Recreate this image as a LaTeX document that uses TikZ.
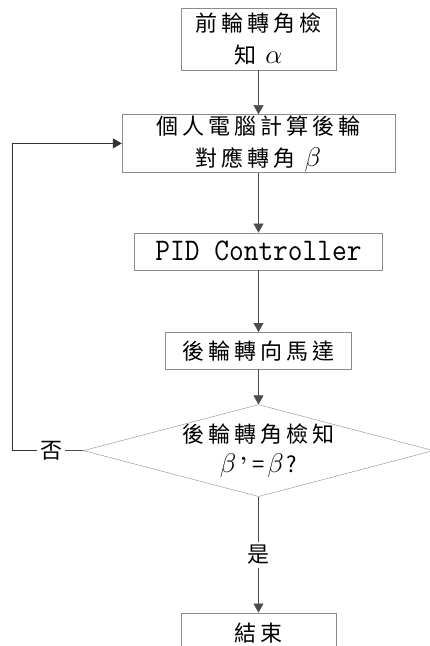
\RequirePackage{fix-cm}
\documentclass[tikz,border=0pt]{standalone}
\usepackage{fontspec}
\usepackage{graphicx}
\newfontfamily\cjk[LetterSpace=18]{Noto Sans CJK TC}
\usetikzlibrary{positioning,shapes.geometric,arrows.meta}
\newcommand{\gk}[1]{{\fontsize{27pt}{27pt}\selectfont$#1$}}
\tikzstyle{fbox}=[rectangle, draw=black!45, thin, inner sep=0pt, text centered,
                  align=center, font=\cjk\fontsize{22pt}{32pt}\selectfont]
\tikzstyle{dbox}=[diamond, draw=black!45, thin, inner sep=0pt,
                  minimum width=350pt, minimum height=92pt]
\tikzstyle{tbox}=[inner sep=3pt, align=center, font=\cjk\fontsize{22pt}{30pt}\selectfont]
\tikzstyle{pline}=[-, draw=black!70]
\tikzstyle{aline}=[pline, -{Triangle[width=10pt,length=9pt]}]
\begin{document}
\begin{tikzpicture}[node distance=0mm, x=1pt, y=1pt]
\useasboundingbox (0,0) rectangle (430,-646);

\node (FRONT) [fbox, minimum width=155pt, minimum height=62pt] at (258.5,-39) {前輪轉角檢\\知 \gk{\alpha}};

\node (PC) [fbox, minimum width=273pt, minimum height=58pt, below=44pt of FRONT] {個人電腦計算後輪\\對應轉角 \gk{\beta}};
 \draw[aline] (FRONT.south) -- (PC.north);

\node (PID) [fbox, minimum width=248pt, minimum height=37pt, below=60pt of PC,
 font=\ttfamily\fontsize{28.6pt}{30pt}\selectfont] {\scalebox{1}[1.1]{PID Controller}};
 \draw[aline] (PC.south) -- (PID.north);

\node (MOTOR) [fbox, minimum width=186pt, minimum height=37pt, below=62pt of PID] {後輪轉向馬達};
 \draw[aline] (PID.south) -- (MOTOR.north);

\node (CHK) [dbox, below=35pt of MOTOR] {};
\node (CHKtxt) [tbox] at (CHK.center) {後輪轉角檢知\\\gk{\beta}\hspace{4pt}{\rmfamily\bfseries ’}\hspace{5pt}=\hspace{3pt}\gk{\beta}\hspace{3pt}?};
 \draw[aline] (MOTOR.south) -- (CHK.north);

\node (NO) [tbox, left=18pt of CHK.west] {否};
\coordinate (LEFT) at (12,0);
 \draw[pline] (CHK.west) -- (NO.east);
 \draw[aline, draw=black!80, line width=1pt] (NO.west) -- (NO.west -| LEFT) |- (PC.west);

\node (YES) [tbox, below=45pt of CHK] {是};
 \draw[pline] (CHK.south) -- (YES.north);

\node (END) [fbox, minimum width=155pt, minimum height=40pt, below=45pt of YES] {結束};
 \draw[aline] (YES.south) -- (END.north);

\end{tikzpicture}
\end{document}
